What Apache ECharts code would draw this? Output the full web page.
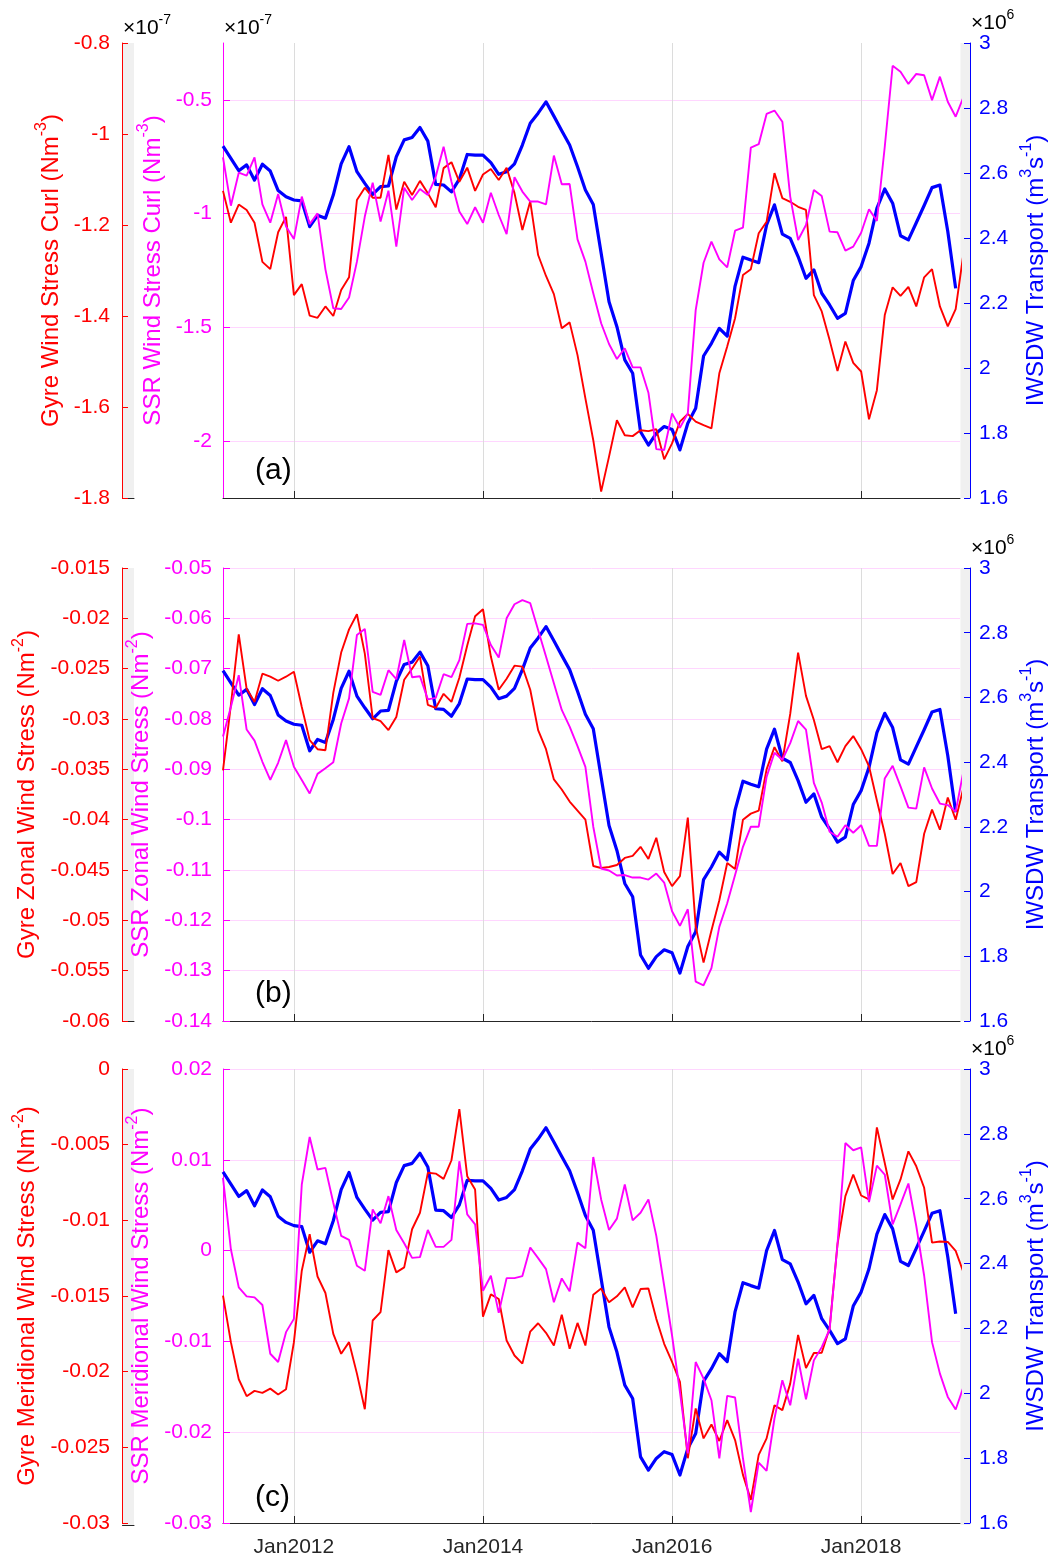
<!DOCTYPE html>
<html><head><meta charset="utf-8">
<script src="https://cdn.jsdelivr.net/npm/echarts@6/dist/echarts.min.js"></script>
<style>html,body{margin:0;padding:0;background:#fff}#c{width:1062px;height:1558px}</style>
</head><body><div id="c"></div>
<script>
const FONT = '"Liberation Sans", Arial, Helvetica, sans-serif';
const RED = '#ff0000', MAG = '#ff00ff', BLUE = '#0000ff', INK = '#262626';

// x axis: months since Jan 2011; first sample = Apr 2011 (month 3)
const startMonth = 3;
const xMin = 3, xMax = 96.55;
const xTickMonths = [12, 36, 60, 84];
const xTickLabels = ['Jan2012', 'Jan2014', 'Jan2016', 'Jan2018'];

// IWSDW transport (x10^6 m^3 s^-1), monthly Apr 2011 - Jan 2019
const iwsdwTransport = [2.683, 2.645, 2.607, 2.625, 2.578, 2.627, 2.606, 2.546, 2.527, 2.517,
 2.514, 2.435, 2.470, 2.461, 2.532, 2.628, 2.681, 2.604, 2.568, 2.534,
 2.558, 2.560, 2.650, 2.702, 2.709, 2.740, 2.698, 2.565, 2.563, 2.542,
 2.581, 2.657, 2.655, 2.655, 2.632, 2.596, 2.604, 2.628, 2.686, 2.753,
 2.784, 2.819, 2.775, 2.730, 2.686, 2.619, 2.548, 2.503, 2.353, 2.204,
 2.127, 2.025, 1.984, 1.804, 1.763, 1.799, 1.820, 1.811, 1.748, 1.830,
 1.876, 2.037, 2.076, 2.122, 2.098, 2.252, 2.341, 2.332, 2.324, 2.440,
 2.502, 2.412, 2.399, 2.343, 2.276, 2.302, 2.230, 2.194, 2.153, 2.168,
 2.269, 2.312, 2.384, 2.491, 2.551, 2.507, 2.407, 2.394, 2.447, 2.500,
 2.555, 2.563, 2.420, 2.245];

// (a) wind stress curl (x10^-7 N m^-3), monthly Apr 2011 - Feb 2019
const gyreCurl = [-1.125, -1.195, -1.155, -1.167, -1.195, -1.281, -1.297, -1.216, -1.182, -1.354,
 -1.330, -1.399, -1.404, -1.379, -1.400, -1.343, -1.315, -1.145, -1.118, -1.140,
 -1.140, -1.046, -1.166, -1.105, -1.134, -1.103, -1.130, -1.161, -1.075, -1.062,
 -1.105, -1.074, -1.125, -1.089, -1.077, -1.101, -1.074, -1.130, -1.211, -1.148,
 -1.266, -1.312, -1.352, -1.427, -1.414, -1.486, -1.581, -1.673, -1.786, -1.709,
 -1.629, -1.662, -1.664, -1.651, -1.653, -1.649, -1.715, -1.680, -1.632, -1.615,
 -1.632, -1.640, -1.647, -1.526, -1.467, -1.405, -1.310, -1.297, -1.218, -1.193,
 -1.086, -1.141, -1.149, -1.160, -1.167, -1.354, -1.390, -1.453, -1.521, -1.456,
 -1.503, -1.522, -1.627, -1.563, -1.398, -1.337, -1.356, -1.336, -1.379, -1.315,
 -1.297, -1.379, -1.423, -1.385, -1.261];
const ssrCurl = [-0.753, -0.965, -0.820, -0.833, -0.753, -0.959, -1.040, -0.914, -1.057, -1.112,
 -0.925, -1.046, -0.999, -1.245, -1.416, -1.419, -1.369, -1.211, -1.013, -0.864,
 -1.035, -0.899, -1.145, -0.886, -0.940, -0.892, -0.918, -0.838, -0.706, -0.860,
 -0.991, -1.046, -0.972, -1.040, -0.908, -1.006, -1.090, -0.840, -0.903, -0.947,
 -0.947, -0.959, -0.745, -0.871, -0.870, -1.113, -1.211, -1.350, -1.482, -1.573,
 -1.639, -1.592, -1.676, -1.676, -1.787, -2.035, -2.039, -1.878, -1.941, -1.878,
 -1.424, -1.216, -1.123, -1.201, -1.236, -1.075, -1.062, -0.710, -0.695, -0.562,
 -0.547, -0.596, -0.925, -1.116, -1.050, -0.896, -0.923, -1.079, -1.082, -1.163,
 -1.145, -1.084, -0.981, -1.032, -0.706, -0.350, -0.376, -0.430, -0.386, -0.392,
 -0.501, -0.398, -0.508, -0.574, -0.487];

// (b) zonal wind stress (N m^-2)
const gyreZonal = [-0.0351, -0.0286, -0.0216, -0.0270, -0.0283, -0.0255, -0.0258, -0.0262, -0.0258, -0.0253,
 -0.0288, -0.0321, -0.0330, -0.0331, -0.0274, -0.0234, -0.0211, -0.0196, -0.0235, -0.0299,
 -0.0302, -0.0311, -0.0298, -0.0261, -0.0250, -0.0238, -0.0286, -0.0289, -0.0275, -0.0283,
 -0.0259, -0.0227, -0.0198, -0.0191, -0.0238, -0.0271, -0.0260, -0.0247, -0.0248, -0.0271,
 -0.0311, -0.0330, -0.0360, -0.0370, -0.0382, -0.0391, -0.0400, -0.0446, -0.0448, -0.0447,
 -0.0445, -0.0438, -0.0436, -0.0427, -0.0439, -0.0418, -0.0452, -0.0466, -0.0456, -0.0398,
 -0.0506, -0.0542, -0.0510, -0.0480, -0.0443, -0.0449, -0.0400, -0.0394, -0.0391, -0.0350,
 -0.0328, -0.0342, -0.0295, -0.0234, -0.0277, -0.0301, -0.0330, -0.0327, -0.0343, -0.0327,
 -0.0317, -0.0330, -0.0347, -0.0381, -0.0414, -0.0454, -0.0443, -0.0466, -0.0462, -0.0414,
 -0.0390, -0.0410, -0.0378, -0.0400, -0.0368];
const ssrZonal = [-0.0835, -0.0776, -0.0713, -0.0821, -0.0843, -0.0885, -0.0921, -0.0887, -0.0842, -0.0895,
 -0.0921, -0.0948, -0.0909, -0.0898, -0.0886, -0.0809, -0.0759, -0.0633, -0.0621, -0.0746,
 -0.0752, -0.0703, -0.0721, -0.0643, -0.0717, -0.0715, -0.0761, -0.0758, -0.0711, -0.0717,
 -0.0683, -0.0611, -0.0610, -0.0613, -0.0653, -0.0678, -0.0600, -0.0572, -0.0564, -0.0570,
 -0.0623, -0.0676, -0.0729, -0.0782, -0.0815, -0.0854, -0.0895, -0.1014, -0.1097, -0.1101,
 -0.1111, -0.1110, -0.1115, -0.1115, -0.1119, -0.1107, -0.1125, -0.1182, -0.1211, -0.1178,
 -0.1322, -0.1329, -0.1295, -0.1213, -0.1166, -0.1110, -0.1054, -0.1014, -0.1014, -0.0915,
 -0.0867, -0.0881, -0.0848, -0.0804, -0.0821, -0.0927, -0.0966, -0.1024, -0.1034, -0.1011,
 -0.1026, -0.1011, -0.1052, -0.1052, -0.0918, -0.0893, -0.0934, -0.0976, -0.0978, -0.0896,
 -0.0938, -0.0968, -0.0971, -0.0984, -0.0903];

// (c) meridional wind stress (N m^-2)
const gyreMerid = [-0.01498, -0.01805, -0.02050, -0.02162, -0.02127, -0.02140, -0.02112, -0.02151, -0.02116, -0.01805,
 -0.01333, -0.01092, -0.01371, -0.01480, -0.01750, -0.01882, -0.01805, -0.02013, -0.02248, -0.01662,
 -0.01607, -0.01197, -0.01344, -0.01311, -0.01059, -0.00950, -0.00686, -0.00691, -0.00726, -0.00603,
 -0.00265, -0.00708, -0.00796, -0.01636, -0.01489, -0.01520, -0.01794, -0.01893, -0.01947, -0.01735,
 -0.01680, -0.01743, -0.01827, -0.01623, -0.01849, -0.01678, -0.01827, -0.01491, -0.01450, -0.01542,
 -0.01502, -0.01443, -0.01575, -0.01454, -0.01450, -0.01651, -0.01816, -0.01936, -0.02068, -0.02572,
 -0.02243, -0.02441, -0.02349, -0.02458, -0.02320, -0.02452, -0.02682, -0.02847, -0.02550, -0.02441,
 -0.02222, -0.02254, -0.02079, -0.01757, -0.01976, -0.01877, -0.01875, -0.01713, -0.01158, -0.00840,
 -0.00697, -0.00836, -0.00862, -0.00386, -0.00621, -0.00862, -0.00730, -0.00544, -0.00643, -0.00785,
 -0.01147, -0.01140, -0.01143, -0.01202, -0.01344];
const ssrMerid = [0.00801, 0.00015, -0.00405, -0.00504, -0.00515, -0.00599, -0.01136, -0.01227, -0.00898, -0.00752,
 0.00728, 0.01251, 0.00893, 0.00911, 0.00527, 0.00162, 0.00118, -0.00167, -0.00222, 0.00454,
 0.00300, 0.00600, 0.00227, 0.00081, -0.00080, -0.00072, 0.00227, 0.00041, 0.00041, 0.00118,
 0.00984, 0.00399, 0.00289, -0.00442, -0.00277, -0.00686, -0.00303, -0.00303, -0.00281, 0.00034,
 -0.00083, -0.00204, -0.00569, -0.00306, -0.00449, 0.00088, 0.00026, 0.01031, 0.00564, 0.00227,
 0.00352, 0.00728, 0.00333, 0.00417, 0.00564, 0.00162, -0.00387, -0.00935, -0.01556, -0.02233,
 -0.01227, -0.01410, -0.01648, -0.02287, -0.01600, -0.01618, -0.02287, -0.02879, -0.02335, -0.02426,
 -0.01849, -0.01428, -0.01703, -0.01191, -0.01637, -0.01209, -0.01063, -0.00869, 0.00070, 0.01185,
 0.01105, 0.01137, 0.00534, 0.00936, 0.00838, 0.00289, 0.00509, 0.00739, 0.00271, -0.00277,
 -0.01008, -0.01355, -0.01611, -0.01750, -0.01498];

const panels = [
  { label: '(a)', top: 43, height: 455, gyre: gyreCurl, ssr: ssrCurl,
    red: { min: -1.8, max: -0.8, interval: 0.2 },
    mag: { min: -2.25, max: -0.25, ticks: [-2, -1.5, -1, -0.5] },
    redTitle: '{m|Gyre Wind Stress Curl (Nm}{s|-3}{m|)}',
    magTitle: '{m|SSR Wind Stress Curl (Nm}{s|-3}{m|)}',
    expo: true, showX: false },
  { label: '(b)', top: 568, height: 453, gyre: gyreZonal, ssr: ssrZonal,
    red: { min: -0.06, max: -0.015, interval: 0.005 },
    mag: { min: -0.14, max: -0.05, interval: 0.01 },
    redTitle: '{m|Gyre Zonal Wind Stress (Nm}{s|-2}{m|)}',
    magTitle: '{m|SSR Zonal Wind Stress (Nm}{s|-2}{m|)}',
    expo: false, showX: false },
  { label: '(c)', top: 1069, height: 456, gyre: gyreMerid, ssr: ssrMerid,
    red: { min: -0.03, max: 0, interval: 0.005 },
    mag: { min: -0.03, max: 0.02, interval: 0.01 },
    redTitle: '{m|Gyre Meridional Wind Stress (Nm}{s|-2}{m|)}',
    magTitle: '{m|SSR Meridional Wind Stress (Nm}{s|-2}{m|)}',
    expo: false, showX: true }
];
const blueTitle = '{m|IWSDW Transport (m}{s|3}{m|s}{s|-1}{m|)}';

const TICK_FS = 21, TITLE_FS = 24;
function fmt(v) { return String(parseFloat(Number(v).toFixed(4))); }
function richSet(color, F) {
  const Fs = Math.round(F * 0.68);
  return {
    m: { fontSize: F, fontFamily: FONT, color: color, verticalAlign: 'bottom', lineHeight: F },
    s: { fontSize: Fs, fontFamily: FONT, color: color, verticalAlign: 'top', lineHeight: Math.round(F * 1.22) }
  };
}

const grids = [], xAxes = [], yAxes = [], series = [], graphics = [];
const LEFT = 223, RIGHT_EDGE = 960;

panels.forEach(function (p) {
  const g = grids.length;
  grids.push({ left: LEFT, top: p.top, width: RIGHT_EDGE - LEFT, height: p.height });
  grids.push({ left: 122.5, top: p.top, width: 11.5, height: p.height, show: true, backgroundColor: '#f0f0f0', borderWidth: 0 });
  grids.push({ left: 960.5, top: p.top, width: 9.5, height: p.height, show: true, backgroundColor: '#f0f0f0', borderWidth: 0 });

  const xi = xAxes.length;
  xAxes.push({ gridIndex: g, type: 'value', min: xMin, max: xMax,
    axisLine: { show: true, onZero: false, lineStyle: { color: INK, width: 1 } },
    axisTick: { show: true, inside: true, length: 7, customValues: xTickMonths, lineStyle: { color: INK } },
    axisLabel: { show: p.showX, customValues: xTickMonths, margin: 14, fontSize: TICK_FS, fontFamily: FONT, color: INK,
      formatter: function (v) { const k = xTickMonths.indexOf(Math.round(v)); return k >= 0 ? xTickLabels[k] : ''; } },
    splitLine: { show: true, lineStyle: { color: '#dcdcdc', width: 1 } } });
  xAxes.push({ gridIndex: g + 1, type: 'value', min: 0, max: 1,
    axisLine: { show: true, onZero: false, lineStyle: { color: INK, width: 1 } },
    axisTick: { show: false }, axisLabel: { show: false }, splitLine: { show: false } });
  xAxes.push({ gridIndex: g + 2, type: 'value', min: 0, max: 1, show: false });

  // magenta (SSR) axis
  const yMag = yAxes.length;
  const magAxis = { gridIndex: g, type: 'value', position: 'left', min: p.mag.min, max: p.mag.max,
    axisLine: { show: true, lineStyle: { color: MAG, width: 1 } },
    axisTick: { show: true, inside: true, length: 7, lineStyle: { color: MAG } },
    axisLabel: { color: MAG, fontSize: TICK_FS, fontFamily: FONT, margin: 11, formatter: fmt },
    splitLine: { show: true, lineStyle: { color: '#ffd6ff', width: 1 } },
    name: p.magTitle, nameLocation: 'middle', nameGap: 56, nameRotate: 90,
    nameTextStyle: { rich: richSet(MAG, TITLE_FS) } };
  if (p.mag.ticks) {
    magAxis.axisTick.customValues = p.mag.ticks;
    magAxis.axisLabel.customValues = p.mag.ticks;
  } else {
    magAxis.interval = p.mag.interval;
  }
  yAxes.push(magAxis);

  // red (Gyre) axis
  const yRed = yAxes.length;
  yAxes.push({ gridIndex: g, type: 'value', position: 'left', offset: 101, min: p.red.min, max: p.red.max, interval: p.red.interval,
    axisLine: { show: true, lineStyle: { color: RED, width: 1 } },
    axisTick: { show: true, inside: true, length: 6, lineStyle: { color: RED } },
    axisLabel: { color: RED, fontSize: TICK_FS, fontFamily: FONT, margin: 12, formatter: fmt },
    splitLine: { show: false },
    name: p.redTitle, nameLocation: 'middle', nameGap: 57, nameRotate: 90,
    nameTextStyle: { rich: richSet(RED, TITLE_FS) } });

  // blue (IWSDW) axis
  const yBlue = yAxes.length;
  yAxes.push({ gridIndex: g, type: 'value', position: 'right', offset: 10, min: 1.6, max: 3, interval: 0.2,
    axisLine: { show: true, lineStyle: { color: BLUE, width: 1 } },
    axisTick: { show: true, inside: true, length: 6, lineStyle: { color: BLUE } },
    axisLabel: { color: BLUE, fontSize: TICK_FS, fontFamily: FONT, margin: 9, formatter: fmt },
    splitLine: { show: false },
    name: blueTitle, nameLocation: 'middle', nameGap: 43, nameRotate: 90,
    nameTextStyle: { rich: richSet(BLUE, TITLE_FS) } });

  yAxes.push({ gridIndex: g + 1, type: 'value', min: 0, max: 1, show: false });
  yAxes.push({ gridIndex: g + 2, type: 'value', min: 0, max: 1, show: false });

  series.push({ type: 'line', xAxisIndex: xi, yAxisIndex: yBlue, symbol: 'none', clip: true, silent: true,
    data: iwsdwTransport.map(function (v, i) { return [startMonth + i, v]; }),
    lineStyle: { color: BLUE, width: 3.2, join: 'round' }, itemStyle: { color: BLUE }, z: 2 });
  series.push({ type: 'line', xAxisIndex: xi, yAxisIndex: yRed, symbol: 'none', clip: true, silent: true,
    data: p.gyre.map(function (v, i) { return [startMonth + i, v]; }),
    lineStyle: { color: RED, width: 1.9 }, itemStyle: { color: RED }, z: 3 });
  series.push({ type: 'line', xAxisIndex: xi, yAxisIndex: yMag, symbol: 'none', clip: true, silent: true,
    data: p.ssr.map(function (v, i) { return [startMonth + i, v]; }),
    lineStyle: { color: MAG, width: 1.9 }, itemStyle: { color: MAG }, z: 3 });

  // panel label
  graphics.push({ type: 'text', x: 255, y: p.top + p.height - 27,
    style: { text: p.label, fontSize: 30, fontFamily: FONT, fill: '#000', verticalAlign: 'middle', align: 'left' } });
  // blue exponent
  graphics.push({ type: 'text', x: 971, y: p.top - 22,
    style: { text: '{m|×10}{s|6}', rich: richSet(BLUE, 21), verticalAlign: 'middle', align: 'left' } });
  if (p.expo) {
    graphics.push({ type: 'text', x: 123, y: p.top - 17,
      style: { text: '{m|×10}{s|-7}', rich: richSet(RED, 21), verticalAlign: 'middle', align: 'left' } });
    graphics.push({ type: 'text', x: 224, y: p.top - 17,
      style: { text: '{m|×10}{s|-7}', rich: richSet(MAG, 21), verticalAlign: 'middle', align: 'left' } });
  }
});

const chart = echarts.init(document.getElementById('c'), null, { renderer: 'canvas', width: 1062, height: 1558 });
chart.setOption({
  animation: false,
  backgroundColor: '#ffffff',
  textStyle: { fontFamily: FONT },
  grid: grids, xAxis: xAxes, yAxis: yAxes, series: series, graphic: graphics
});
</script>
</body></html>
